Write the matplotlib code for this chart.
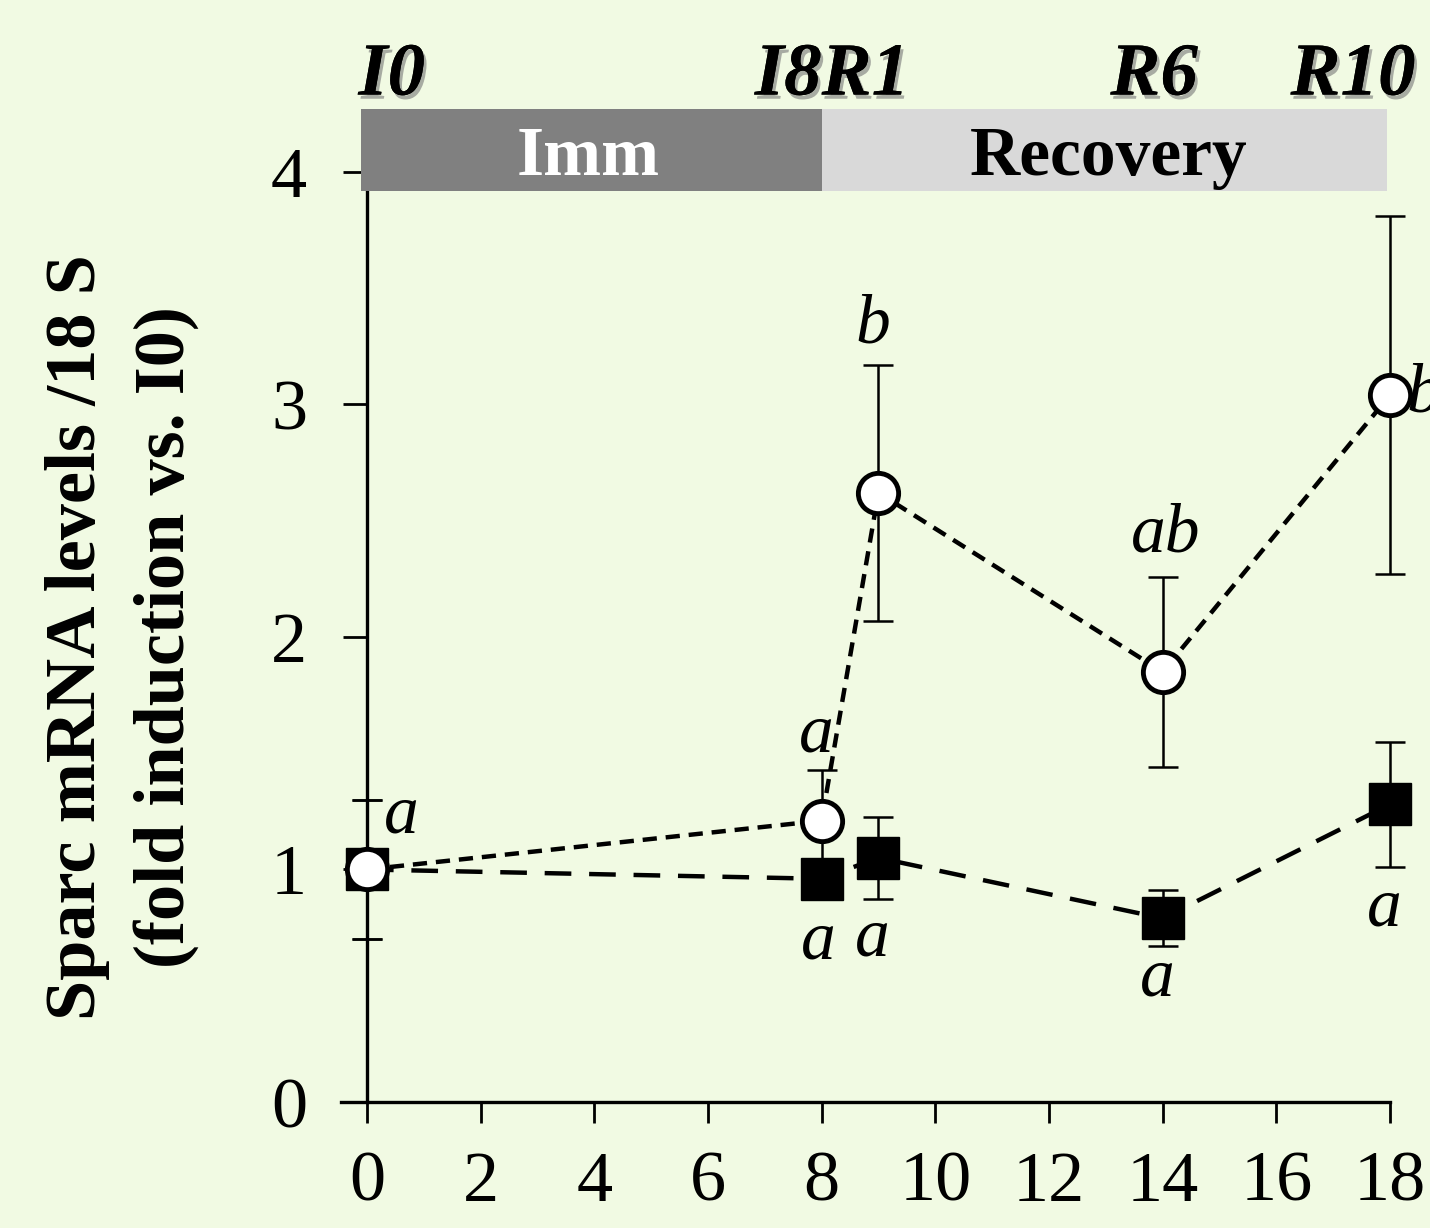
import numpy as np
import matplotlib.pyplot as plt
import matplotlib.patheffects as pe
from matplotlib.patches import Rectangle

# Day of the protocol (immobilisation 0-8, recovery 9-18)
days = [0, 8, 9, 14, 18]

# Open circles
circ_y = [1.0, 1.21, 2.62, 1.85, 3.04]
circ_err = [0.30, 0.22, 0.55, 0.41, 0.77]
circ_labels = ['a', 'a', 'b', 'ab', 'b']

# Filled squares
sq_y = [1.0, 0.96, 1.05, 0.79, 1.28]
sq_err = [0.30, 0.08, 0.175, 0.12, 0.27]
sq_labels = ['', 'a', 'a', 'a', 'a']

bg = '#F1FAE3'
serif = ['Liberation Serif', 'DejaVu Serif']

fig = plt.figure(figsize=(14.3, 12.28), dpi=100, facecolor=bg)
ax = fig.add_axes([0.2566, 0.1026, 0.9720 - 0.2566, 0.860 - 0.1026])
ax.set_facecolor(bg)

# squares first, circles on top
ax.errorbar(days, sq_y, yerr=sq_err, fmt='none', ecolor='black',
            elinewidth=1.8, capsize=11, capthick=1.8, zorder=2, clip_on=False)
ax.plot(days, sq_y, color='black', lw=3.2, dashes=(6, 4), marker='s',
        markersize=30, markerfacecolor='black', markeredgecolor='black',
        zorder=3, clip_on=False)

ax.errorbar(days, circ_y, yerr=circ_err, fmt='none', ecolor='black',
            elinewidth=1.8, capsize=11, capthick=1.8, zorder=4, clip_on=False)
ax.plot(days, circ_y, color='black', lw=3.2, dashes=(3.2, 2), marker='o',
        markersize=29, markerfacecolor='white', markeredgecolor='black',
        markeredgewidth=3.5, zorder=5, clip_on=False)

# significance letters
lfont = dict(family=serif, style='italic', fontsize=50, ha='center', va='center')
circ_off = [(0.6, 0.23), (-0.1, 0.37), (-0.1, 0.72), (0.05, 0.59), (0.6, 0.0)]
for x, y, s, (dx, dy) in zip(days, circ_y, circ_labels, circ_off):
    ax.text(x + dx, y + dy, s, clip_on=False, **lfont)
sq_off = [(0, 0), (-0.05, -0.27), (-0.1, -0.35), (-0.1, -0.26), (-0.1, -0.45)]
for x, y, s, (dx, dy) in zip(days, sq_y, sq_labels, sq_off):
    if s:
        ax.text(x + dx, y + dy, s, clip_on=False, **lfont)

# phase bar
ax.add_patch(Rectangle((-0.1, 3.92), 8.1, 0.35, facecolor='#808080',
                       edgecolor='none', clip_on=False, zorder=6))
ax.add_patch(Rectangle((8.0, 3.92), 9.95, 0.35, facecolor='#D9D9D9',
                       edgecolor='none', clip_on=False, zorder=6))
ax.text(3.9, 4.06, 'Imm', family=serif, fontweight='bold', fontsize=50,
        color='white', ha='center', va='center', zorder=7)
ax.text(13.05, 4.06, 'Recovery', family=serif, fontweight='bold', fontsize=50,
        color='black', ha='center', va='center', zorder=7)

shadow = [pe.withSimplePatchShadow(offset=(2, -3), shadow_rgbFace='#777777', alpha=0.6),
          pe.Normal()]
tfont = dict(family=serif, style='italic', fontweight='bold', fontsize=54,
             va='center', path_effects=shadow)
ax.text(-0.15, 4.41, 'I0', ha='left', **tfont)
ax.text(8.0, 4.41, 'I8', ha='right', **tfont)
ax.text(8.0, 4.41, 'R1', ha='left', **tfont)
ax.text(13.85, 4.41, 'R6', ha='center', **tfont)
ax.text(17.35, 4.41, 'R10', ha='center', **tfont)

ax.set_xlim(0, 18)
ax.set_ylim(0, 4)
ax.set_xticks(range(0, 19, 2))
ax.set_yticks([0, 1, 2, 3, 4])

for sp in ['top', 'right']:
    ax.spines[sp].set_visible(False)
for sp in ['left', 'bottom']:
    ax.spines[sp].set_linewidth(2.4)
ax.spines['bottom'].set_bounds(-0.45, 18)

ax.tick_params(axis='x', direction='out', length=15, width=2, pad=20)
ax.tick_params(axis='y', direction='out', length=17, width=2, pad=26)
for lab in ax.get_xticklabels() + ax.get_yticklabels():
    lab.set_fontfamily(serif)
    lab.set_fontsize(52)

ax.set_ylabel('Sparc mRNA levels /18 S\n(fold induction vs. I0)', family=serif,
              fontweight='bold', fontsize=52, linespacing=1.45, labelpad=52)

fig.savefig('out.png', dpi=100, facecolor=bg)
